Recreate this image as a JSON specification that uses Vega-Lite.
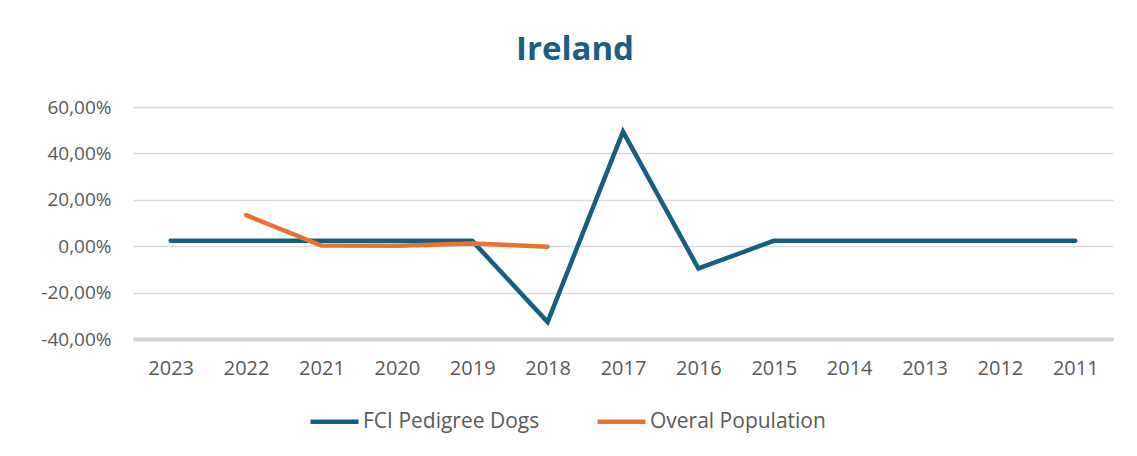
{
  "$schema": "https://vega.github.io/schema/vega-lite/v6.json",
  "width": 980,
  "height": 232,
  "autosize": {"type": "none"},
  "padding": {"left": 133, "top": 107, "right": 24, "bottom": 117},
  "background": "white",
  "title": {
    "text": "Ireland",
    "anchor": "middle",
    "dx": -48,
    "offset": 31,
    "fontSize": 33,
    "fontWeight": "bold",
    "font": "Open Sans",
    "color": "#1A5F82"
  },
  "config": {
    "locale": {"number": {"decimal": ",", "thousands": ".", "grouping": [3], "currency": ["", "€"], "minus": "-"}},
    "view": {"stroke": null},
    "font": "Open Sans"
  },
  "data": {
    "values": [
      {"year": "2023", "series": "FCI Pedigree Dogs", "value": 0.023},
      {"year": "2022", "series": "FCI Pedigree Dogs", "value": 0.023},
      {"year": "2021", "series": "FCI Pedigree Dogs", "value": 0.023},
      {"year": "2020", "series": "FCI Pedigree Dogs", "value": 0.023},
      {"year": "2019", "series": "FCI Pedigree Dogs", "value": 0.023},
      {"year": "2018", "series": "FCI Pedigree Dogs", "value": -0.327},
      {"year": "2017", "series": "FCI Pedigree Dogs", "value": 0.494},
      {"year": "2016", "series": "FCI Pedigree Dogs", "value": -0.096},
      {"year": "2015", "series": "FCI Pedigree Dogs", "value": 0.023},
      {"year": "2014", "series": "FCI Pedigree Dogs", "value": 0.023},
      {"year": "2013", "series": "FCI Pedigree Dogs", "value": 0.023},
      {"year": "2012", "series": "FCI Pedigree Dogs", "value": 0.023},
      {"year": "2011", "series": "FCI Pedigree Dogs", "value": 0.023},
      {"year": "2022", "series": "Overal Population", "value": 0.134},
      {"year": "2021", "series": "Overal Population", "value": 0.003},
      {"year": "2020", "series": "Overal Population", "value": 0.002},
      {"year": "2019", "series": "Overal Population", "value": 0.012},
      {"year": "2018", "series": "Overal Population", "value": -0.002}
    ]
  },
  "mark": {"type": "line", "strokeWidth": 4.5, "strokeCap": "round", "strokeJoin": "miter"},
  "encoding": {
    "x": {
      "field": "year",
      "type": "ordinal",
      "sort": "descending",
      "scale": {"padding": 0.5},
      "axis": {
        "title": null,
        "labelAngle": 0,
        "labelFontSize": 20,
        "labelColor": "#595959",
        "labelPadding": 19,
        "ticks": false,
        "grid": false,
        "domain": true,
        "domainColor": "#cfcfcf",
        "domainWidth": 4
      }
    },
    "y": {
      "field": "value",
      "type": "quantitative",
      "scale": {"domain": [-0.4, 0.6], "nice": false},
      "axis": {
        "title": null,
        "values": [-0.4, -0.2, 0, 0.2, 0.4, 0.6],
        "format": ".2%",
        "labelFontSize": 19,
        "labelColor": "#595959",
        "labelPadding": 22,
        "ticks": false,
        "domain": false,
        "gridColor": "#d9d9d9",
        "gridWidth": 1.5
      }
    },
    "color": {
      "field": "series",
      "type": "nominal",
      "scale": {"domain": ["FCI Pedigree Dogs", "Overal Population"], "range": ["#156082", "#E97132"]},
      "legend": {
        "title": null,
        "orient": "none",
        "direction": "horizontal",
        "legendX": 175,
        "legendY": 288,
        "symbolType": "stroke",
        "symbolSize": 2300,
        "symbolStrokeWidth": 4.5,
        "labelFontSize": 21,
        "labelLimit": 400,
        "labelColor": "#595959",
        "labelOffset": 2,
        "columnPadding": 48
      }
    }
  }
}
